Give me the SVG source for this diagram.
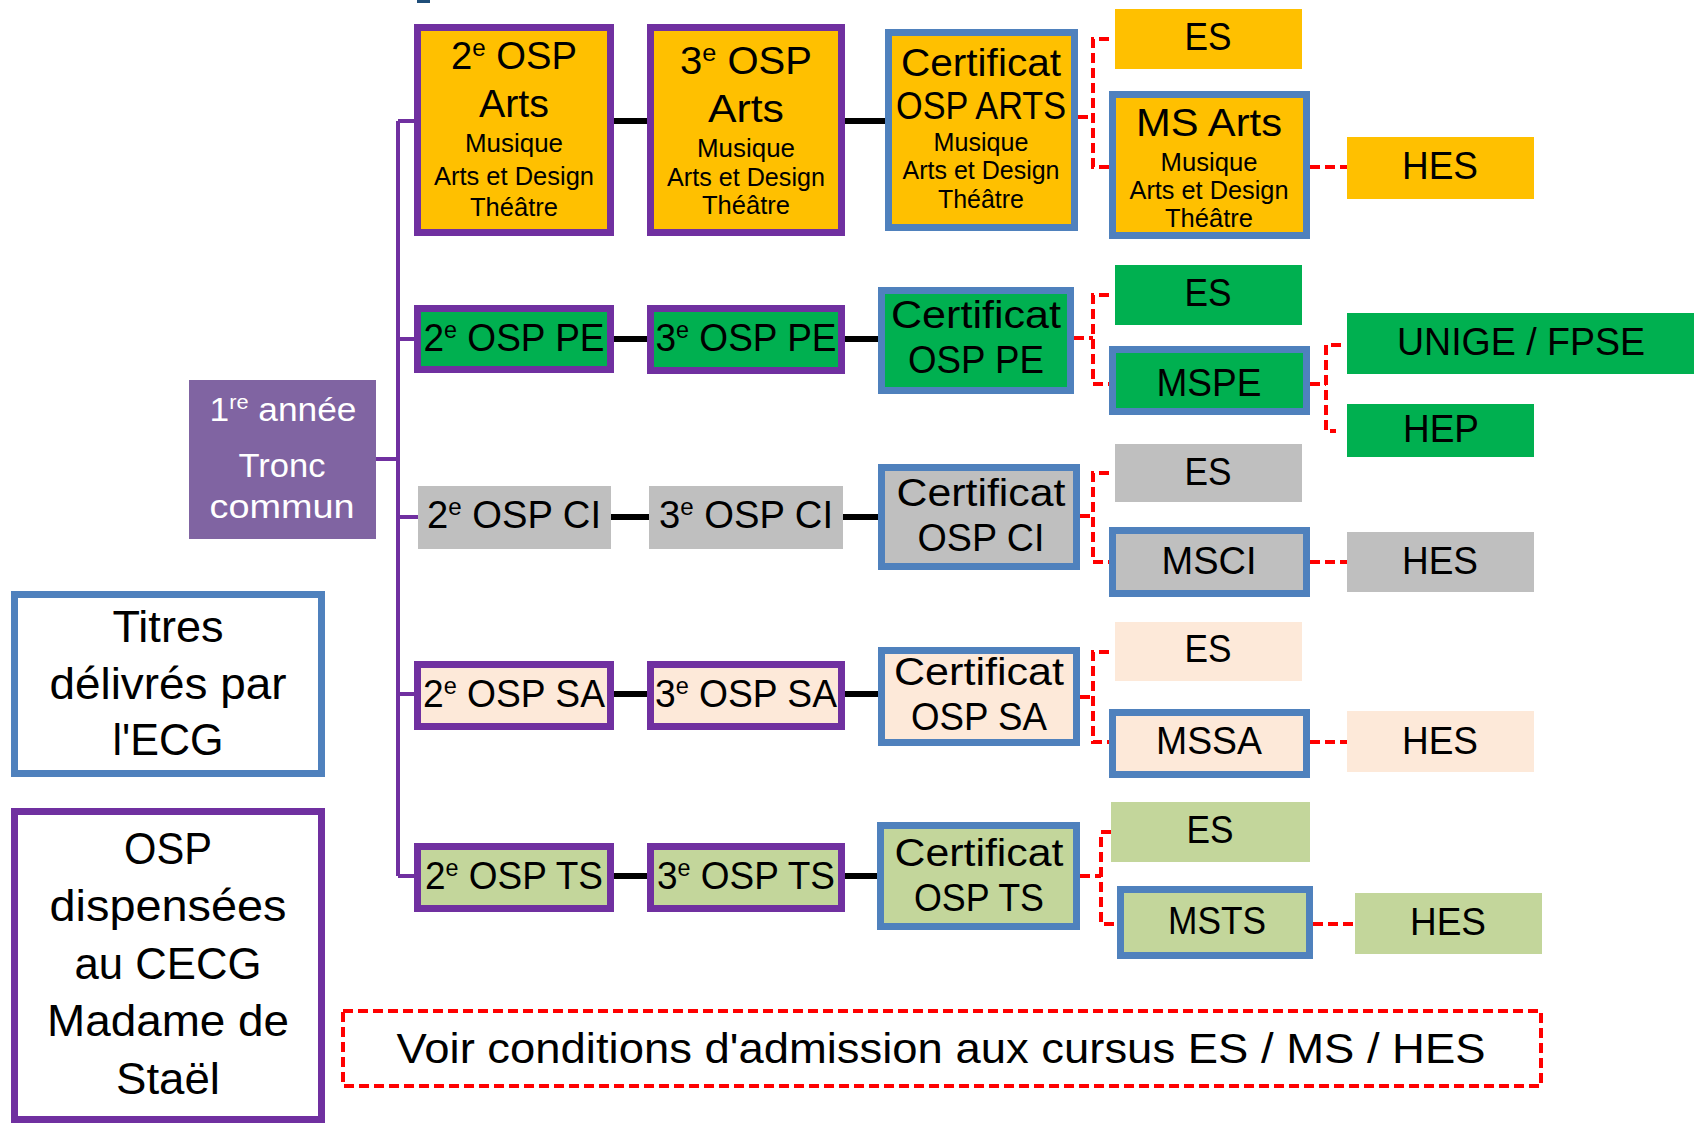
<svg xmlns="http://www.w3.org/2000/svg" width="1701" height="1125" viewBox="0 0 1701 1125">
<style>
text{font-family:"Liberation Sans",Arial,sans-serif;fill:#000;text-anchor:middle}
.b{font-size:38px}
.s{font-size:25px}
.sup{font-size:24px}
.w{fill:#fff}
.l{font-size:45px}
.pb{stroke:#7030A0;stroke-width:7}
.bb{stroke:#4F81BD;stroke-width:7}
.or{fill:#FFC000}
.gr{fill:#00B050}
.gy{fill:#BFBFBF}
.pe{fill:#FDE9D9}
.lg{fill:#C3D69B}
.blk{stroke:#000;stroke-width:6;fill:none}
.trk{stroke:#7030A0;stroke-width:4;fill:none}
.red{stroke:#FF0000;stroke-width:4;fill:none;stroke-dasharray:10 5}
</style>
<rect x="417" y="0" width="13" height="3" fill="#1F4E79"/>
<g id="connectors">
<path class="trk" d="M398 121V876M398 121H414M398 339H414M398 517H418M398 694H414M398 876H414M376 459H398"/>
<path class="blk" d="M614 121H647M845 121H885M614 339H647M845 339H878M611 517H649M843 517H878M614 694H647M845 694H878M614 876H647M845 876H877"/>
<path class="red" d="M1078 117H1093M1109 39H1093V167H1109M1310 167H1347"/>
<path class="red" d="M1074 338H1093M1109 295H1093V384H1109M1310 384H1326M1341 345H1326V431H1336"/>
<path class="red" d="M1080 516H1093M1109 473H1093V562H1109M1310 562H1347"/>
<path class="red" d="M1080 697H1093M1109 652H1093V742H1109M1310 742H1347"/>
<path class="red" d="M1080 876H1101M1111 832H1101V924H1117M1313 924H1355"/>
</g>
<g id="n-1re"><rect x="189" y="380" width="187" height="159" fill="#8064A2"/>
<text class="w" x="283" y="421" font-size="34" textLength="147" lengthAdjust="spacingAndGlyphs">1<tspan font-size="21" dy="-12">re</tspan><tspan dy="12"> année</tspan></text>
<text class="w" x="282" y="477" font-size="34" textLength="87" lengthAdjust="spacingAndGlyphs">Tronc</text>
<text class="w" x="282" y="518" font-size="34" textLength="145" lengthAdjust="spacingAndGlyphs">commun</text></g>
<g id="n-titres"><rect x="14.5" y="594.5" width="307" height="179" fill="#fff" class="bb"/>
<text class="l" x="168" y="642" textLength="111" lengthAdjust="spacingAndGlyphs">Titres</text>
<text class="l" x="168" y="699" textLength="237" lengthAdjust="spacingAndGlyphs">délivrés par</text>
<text class="l" x="168" y="755" textLength="111" lengthAdjust="spacingAndGlyphs">l'ECG</text></g>
<g id="n-osp"><rect x="14.5" y="811.5" width="307" height="308" fill="#fff" class="pb"/>
<text class="l" x="168" y="864" textLength="88" lengthAdjust="spacingAndGlyphs">OSP</text>
<text class="l" x="168" y="921" textLength="237" lengthAdjust="spacingAndGlyphs">dispensées</text>
<text class="l" x="168" y="979" textLength="187" lengthAdjust="spacingAndGlyphs">au CECG</text>
<text class="l" x="168" y="1036" textLength="242" lengthAdjust="spacingAndGlyphs">Madame de</text>
<text class="l" x="168" y="1094" textLength="104" lengthAdjust="spacingAndGlyphs">Staël</text></g>
<g id="n-voir"><rect x="343" y="1011" width="1198" height="75" fill="none" class="red"/>
<text x="941" y="1063" font-size="42" textLength="1089" lengthAdjust="spacingAndGlyphs">Voir conditions d'admission aux cursus ES / MS / HES</text></g>
<!-- Arts row -->
<g id="n-2arts"><rect x="417.5" y="27.5" width="193" height="205" class="or pb"/>
<text class="b" x="514" y="69" textLength="126" lengthAdjust="spacingAndGlyphs">2<tspan class="sup" dy="-13">e</tspan><tspan dy="13"> OSP</tspan></text>
<text class="b" x="514" y="117" textLength="70" lengthAdjust="spacingAndGlyphs">Arts</text>
<text class="s" x="514" y="152" textLength="98" lengthAdjust="spacingAndGlyphs">Musique</text>
<text class="s" x="514" y="185" textLength="160" lengthAdjust="spacingAndGlyphs">Arts et Design</text>
<text class="s" x="514" y="216" textLength="88" lengthAdjust="spacingAndGlyphs">Théâtre</text></g>
<g id="n-3arts"><rect x="650.5" y="27.5" width="191" height="205" class="or pb"/>
<text class="b" x="746" y="74" textLength="132" lengthAdjust="spacingAndGlyphs">3<tspan class="sup" dy="-13">e</tspan><tspan dy="13"> OSP</tspan></text>
<text class="b" x="746" y="122" textLength="76" lengthAdjust="spacingAndGlyphs">Arts</text>
<text class="s" x="746" y="157" textLength="98" lengthAdjust="spacingAndGlyphs">Musique</text>
<text class="s" x="746" y="186" textLength="158" lengthAdjust="spacingAndGlyphs">Arts et Design</text>
<text class="s" x="746" y="214" textLength="88" lengthAdjust="spacingAndGlyphs">Théâtre</text></g>
<g id="n-certarts"><rect x="888.5" y="32.5" width="186" height="195" class="or bb"/>
<text class="b" x="981" y="76" textLength="160" lengthAdjust="spacingAndGlyphs">Certificat</text>
<text class="b" x="981" y="119" textLength="170" lengthAdjust="spacingAndGlyphs">OSP ARTS</text>
<text class="s" x="981" y="151" textLength="95" lengthAdjust="spacingAndGlyphs">Musique</text>
<text class="s" x="981" y="179" textLength="157" lengthAdjust="spacingAndGlyphs">Arts et Design</text>
<text class="s" x="981" y="208" textLength="86" lengthAdjust="spacingAndGlyphs">Théâtre</text></g>
<g id="n-esarts"><rect x="1115" y="9" width="187" height="60" class="or"/>
<text class="b" x="1208" y="50" textLength="47" lengthAdjust="spacingAndGlyphs">ES</text></g>
<g id="n-msarts"><rect x="1112.5" y="94.5" width="194" height="141" class="or bb"/>
<text class="b" x="1209" y="136" textLength="146" lengthAdjust="spacingAndGlyphs">MS Arts</text>
<text class="s" x="1209" y="171" textLength="97" lengthAdjust="spacingAndGlyphs">Musique</text>
<text class="s" x="1209" y="199" textLength="159" lengthAdjust="spacingAndGlyphs">Arts et Design</text>
<text class="s" x="1209" y="227" textLength="88" lengthAdjust="spacingAndGlyphs">Théâtre</text></g>
<g id="n-hesarts"><rect x="1347" y="137" width="187" height="62" class="or"/>
<text class="b" x="1440" y="179" textLength="76" lengthAdjust="spacingAndGlyphs">HES</text></g>
<!-- PE row -->
<g id="n-2pe"><rect x="417.5" y="308.5" width="193" height="61" class="gr pb"/>
<text class="b" x="514" y="351" textLength="181" lengthAdjust="spacingAndGlyphs">2<tspan class="sup" dy="-13">e</tspan><tspan dy="13"> OSP PE</tspan></text></g>
<g id="n-3pe"><rect x="650.5" y="308.5" width="191" height="62" class="gr pb"/>
<text class="b" x="746" y="351" textLength="181" lengthAdjust="spacingAndGlyphs">3<tspan class="sup" dy="-13">e</tspan><tspan dy="13"> OSP PE</tspan></text></g>
<g id="n-certpe"><rect x="881.5" y="290.5" width="189" height="100" class="gr bb"/>
<text class="b" x="976" y="328" textLength="170" lengthAdjust="spacingAndGlyphs">Certificat</text>
<text class="b" x="976" y="373" textLength="136" lengthAdjust="spacingAndGlyphs">OSP PE</text></g>
<g id="n-espe"><rect x="1115" y="265" width="187" height="60" class="gr"/>
<text class="b" x="1208" y="306" textLength="47" lengthAdjust="spacingAndGlyphs">ES</text></g>
<g id="n-mspe"><rect x="1112.5" y="349.5" width="194" height="62" class="gr bb"/>
<text class="b" x="1209" y="396" textLength="105" lengthAdjust="spacingAndGlyphs">MSPE</text></g>
<g id="n-unige"><rect x="1347" y="313" width="347" height="61" class="gr"/>
<text class="b" x="1521" y="355" textLength="248" lengthAdjust="spacingAndGlyphs">UNIGE / FPSE</text></g>
<g id="n-hep"><rect x="1347" y="404" width="187" height="53" class="gr"/>
<text class="b" x="1441" y="442" textLength="76" lengthAdjust="spacingAndGlyphs">HEP</text></g>
<!-- CI row -->
<g id="n-2ci"><rect x="418" y="486" width="193" height="63" class="gy"/>
<text class="b" x="514" y="528" textLength="174" lengthAdjust="spacingAndGlyphs">2<tspan class="sup" dy="-13">e</tspan><tspan dy="13"> OSP CI</tspan></text></g>
<g id="n-3ci"><rect x="649" y="486" width="194" height="63" class="gy"/>
<text class="b" x="746" y="528" textLength="174" lengthAdjust="spacingAndGlyphs">3<tspan class="sup" dy="-13">e</tspan><tspan dy="13"> OSP CI</tspan></text></g>
<g id="n-certci"><rect x="881.5" y="467.5" width="195" height="99" class="gy bb"/>
<text class="b" x="981" y="506" textLength="169" lengthAdjust="spacingAndGlyphs">Certificat</text>
<text class="b" x="981" y="551" textLength="127" lengthAdjust="spacingAndGlyphs">OSP CI</text></g>
<g id="n-esci"><rect x="1115" y="444" width="187" height="58" class="gy"/>
<text class="b" x="1208" y="485" textLength="47" lengthAdjust="spacingAndGlyphs">ES</text></g>
<g id="n-msci"><rect x="1112.5" y="530.5" width="194" height="63" class="gy bb"/>
<text class="b" x="1209" y="574" textLength="95" lengthAdjust="spacingAndGlyphs">MSCI</text></g>
<g id="n-hesci"><rect x="1347" y="532" width="187" height="60" class="gy"/>
<text class="b" x="1440" y="574" textLength="76" lengthAdjust="spacingAndGlyphs">HES</text></g>
<!-- SA row -->
<g id="n-2sa"><rect x="417.5" y="664.5" width="193" height="62" class="pe pb"/>
<text class="b" x="514" y="707" textLength="182" lengthAdjust="spacingAndGlyphs">2<tspan class="sup" dy="-13">e</tspan><tspan dy="13"> OSP SA</tspan></text></g>
<g id="n-3sa"><rect x="650.5" y="664.5" width="191" height="62" class="pe pb"/>
<text class="b" x="746" y="707" textLength="182" lengthAdjust="spacingAndGlyphs">3<tspan class="sup" dy="-13">e</tspan><tspan dy="13"> OSP SA</tspan></text></g>
<g id="n-certsa"><rect x="881.5" y="650.5" width="195" height="92" class="pe bb"/>
<text class="b" x="979" y="685" textLength="170" lengthAdjust="spacingAndGlyphs">Certificat</text>
<text class="b" x="979" y="730" textLength="136" lengthAdjust="spacingAndGlyphs">OSP SA</text></g>
<g id="n-essa"><rect x="1115" y="622" width="187" height="59" class="pe"/>
<text class="b" x="1208" y="662" textLength="47" lengthAdjust="spacingAndGlyphs">ES</text></g>
<g id="n-mssa"><rect x="1112.5" y="712.5" width="194" height="62" class="pe bb"/>
<text class="b" x="1209" y="754" textLength="106" lengthAdjust="spacingAndGlyphs">MSSA</text></g>
<g id="n-hessa"><rect x="1347" y="711" width="187" height="61" class="pe"/>
<text class="b" x="1440" y="754" textLength="76" lengthAdjust="spacingAndGlyphs">HES</text></g>
<!-- TS row -->
<g id="n-2ts"><rect x="417.5" y="846.5" width="193" height="62" class="lg pb"/>
<text class="b" x="514" y="889" textLength="178" lengthAdjust="spacingAndGlyphs">2<tspan class="sup" dy="-13">e</tspan><tspan dy="13"> OSP TS</tspan></text></g>
<g id="n-3ts"><rect x="650.5" y="846.5" width="191" height="62" class="lg pb"/>
<text class="b" x="746" y="889" textLength="178" lengthAdjust="spacingAndGlyphs">3<tspan class="sup" dy="-13">e</tspan><tspan dy="13"> OSP TS</tspan></text></g>
<g id="n-certts"><rect x="880.5" y="825.5" width="196" height="101" class="lg bb"/>
<text class="b" x="979" y="866" textLength="169" lengthAdjust="spacingAndGlyphs">Certificat</text>
<text class="b" x="979" y="911" textLength="130" lengthAdjust="spacingAndGlyphs">OSP TS</text></g>
<g id="n-ests"><rect x="1111" y="802" width="199" height="60" class="lg"/>
<text class="b" x="1210" y="843" textLength="47" lengthAdjust="spacingAndGlyphs">ES</text></g>
<g id="n-msts"><rect x="1120.5" y="889.5" width="189" height="66" class="lg bb"/>
<text class="b" x="1217" y="934" textLength="98" lengthAdjust="spacingAndGlyphs">MSTS</text></g>
<g id="n-hests"><rect x="1355" y="893" width="187" height="61" class="lg"/>
<text class="b" x="1448" y="935" textLength="76" lengthAdjust="spacingAndGlyphs">HES</text></g>
</svg>
